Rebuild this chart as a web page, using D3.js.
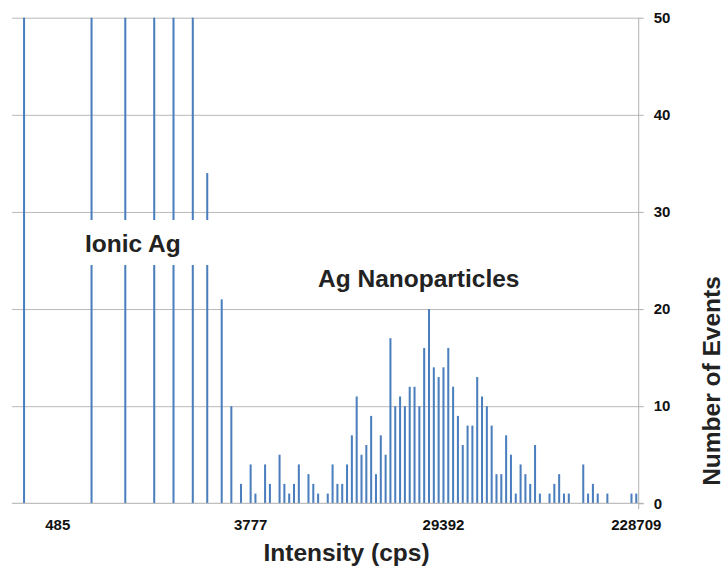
<!DOCTYPE html>
<html>
<head>
<meta charset="utf-8">
<script src="https://cdn.jsdelivr.net/npm/d3@7"></script>
<style>
  html, body { margin: 0; padding: 0; background: #fff; }
  svg { display: block; }
</style>
</head>
<body>
<script>
// Histogram bin counts (130 log-spaced intensity bins)
const counts = [
  0, 0,50, 0, 0, 0, 0, 0, 0, 0,
  0, 0, 0, 0, 0, 0,50, 0, 0, 0,
  0, 0, 0,50, 0, 0, 0, 0, 0,50,
  0, 0, 0,50, 0, 0, 0,50, 0, 0,
 34, 0, 0,21, 0,10, 0, 2, 0, 4,
  1, 0, 4, 2, 0, 5, 2, 1, 2, 4,
  0, 3, 2, 1, 0, 1, 4, 2, 2, 4,
  7,11, 5, 6, 9, 3, 7, 5,17,10,
 11,10,12,12,10,16,20,14,13,14,
 16,12, 9, 6, 8, 8,13,11,10, 8,
  3, 3, 7, 5, 1, 4, 3, 2, 6, 1,
  0, 1, 2, 3, 1, 1, 0, 0, 4, 1,
  2, 1, 0, 1, 0, 0, 0, 0, 1, 1
];
const categories = counts.map((d, i) => i);
const xTickBins = [9, 49, 89, 129];
const xTickLabels = ["485", "3777", "29392", "228709"];
const yTicks = [0, 10, 20, 30, 40, 50];
const xTitle = "Intensity (cps)";
const yTitle = "Number of Events";
const ionicLabel = "Ionic Ag";
const npLabel = "Ag Nanoparticles";

(function () {
const W = 723, H = 566;
const pL = 12, pR = 638.7, pT = 17.7, pB = 503.3;

const svg = d3.select("body").append("svg").attr("width", W).attr("height", H);

const x = d3.scaleBand().domain(categories).range([pL, pR])
  .paddingInner(0.58).paddingOuter(0.29);
const y = d3.scaleLinear().domain([0, 50]).range([pB, pT]).clamp(true);

const tickFont = "Liberation Sans, Arial, sans-serif";

// gridlines
const grid = svg.append("g").attr("transform", `translate(${pR},0)`)
  .call(d3.axisLeft(y).tickValues(yTicks.filter(t => t > 0)).tickSize(pR - pL).tickFormat(""));
grid.select(".domain").remove();
grid.selectAll("line").attr("stroke", "#b9b9b9").attr("stroke-width", 1);

// bars
svg.append("g").selectAll("rect")
  .data(counts.map((c, i) => ({ i, c })).filter(d => d.c > 0))
  .join("rect")
  .attr("x", d => x(d.i))
  .attr("width", x.bandwidth())
  .attr("y", d => y(d.c))
  .attr("height", d => y(0) - y(d.c))
  .attr("fill", "#4a7ebd");

// baseline
svg.append("line").attr("x1", pL).attr("x2", pR + 5)
  .attr("y1", y(0)).attr("y2", y(0)).attr("stroke", "#b0b0b0");

// right y axis
const yAxis = svg.append("g").attr("transform", `translate(${pR},0)`)
  .call(d3.axisRight(y).tickValues(yTicks).tickSize(5).tickPadding(10));
yAxis.select(".domain").remove();
yAxis.selectAll("line").attr("stroke", "#b0b0b0");
yAxis.selectAll("text").attr("font-family", tickFont).attr("font-weight", "bold")
  .attr("font-size", 15).attr("fill", "#111");
svg.append("line").attr("x1", pR).attr("x2", pR)
  .attr("y1", pT).attr("y2", pB + 6).attr("stroke", "#b0b0b0");

// x axis labels
const xAxis = svg.append("g").attr("transform", `translate(0,${pB})`)
  .call(d3.axisBottom(x).tickValues(xTickBins).tickSize(0).tickPadding(16)
    .tickFormat(d => xTickLabels[xTickBins.indexOf(d)]));
xAxis.select(".domain").remove();
xAxis.selectAll("text").attr("font-family", tickFont).attr("font-weight", "bold")
  .attr("font-size", 15).attr("fill", "#111");

// "Ionic Ag" label with white box
svg.append("rect").attr("x", 79).attr("y", 220).attr("width", 135).attr("height", 45).attr("fill", "#fff");
const labelFont = "Liberation Sans, Arial, Helvetica, sans-serif";
svg.append("text").attr("x", 85).attr("y", 252).text(ionicLabel)
  .attr("font-family", labelFont).attr("font-weight", "bold").attr("font-size", 24.5).attr("fill", "#222");
svg.append("text").attr("x", 318).attr("y", 287).text(npLabel)
  .attr("font-family", labelFont).attr("font-weight", "bold").attr("font-size", 24.5).attr("fill", "#222");

// axis titles
svg.append("text").attr("x", 346.5).attr("y", 561).attr("text-anchor", "middle").text(xTitle)
  .attr("font-family", labelFont).attr("font-weight", "bold").attr("font-size", 24.5).attr("fill", "#222");
svg.append("text").attr("transform", "translate(719.5,381) rotate(-90)").attr("text-anchor", "middle").text(yTitle)
  .attr("font-family", labelFont).attr("font-weight", "bold").attr("font-size", 24.5).attr("fill", "#222");
})();
</script>
</body>
</html>
